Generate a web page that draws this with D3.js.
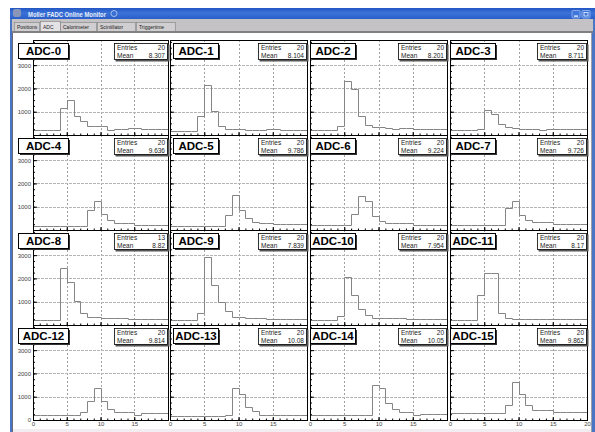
<!DOCTYPE html>
<html><head><meta charset="utf-8">
<script src="https://cdn.jsdelivr.net/npm/d3@7"></script>
<style>
body{margin:0;background:#fff;}
svg{display:block;font-family:"Liberation Sans",Arial,sans-serif;}
</style></head><body>
<svg id="graph"></svg>
<script>
// bin contents, 20 bins of width 1 from 0 to 20
const adc0  = [220,220,230,230,1150,1500,830,610,390,390,390,220,260,270,280,280,270,270,260,260];
const adc1  = [170,170,170,170,830,2130,1040,390,260,260,260,200,230,220,240,250,230,220,200,200];
const adc2  = [200,200,200,200,380,2300,1980,830,420,350,330,300,270,290,300,260,250,250,240,240];
const adc3  = [200,200,200,200,260,1070,900,460,330,300,260,250,240,230,240,260,250,240,240,240];
const adc4  = [190,190,190,190,190,190,190,190,860,1250,690,430,290,290,290,220,220,220,220,220];
const adc5  = [190,190,190,190,190,190,190,190,650,1500,870,510,360,290,290,250,250,250,250,250];
const adc6  = [210,210,210,210,210,210,700,1450,1250,600,380,320,320,320,320,230,230,230,230,230];
const adc7  = [200,200,200,200,200,200,200,200,940,1230,630,430,360,360,360,270,270,270,270,270];
const adc8  = [220,220,220,220,2450,1850,1050,500,350,330,300,300,280,280,270,270,260,260,250,250];
const adc9  = [200,200,200,200,500,2900,1700,1000,600,350,330,300,300,280,270,260,260,250,250,250];
const adc10 = [200,200,200,200,400,2050,1300,700,450,300,300,290,280,280,270,270,260,260,250,250];
const adc11 = [200,200,200,200,1300,2250,2250,500,280,270,260,260,250,250,250,250,250,250,250,250];
const adc12 = [210,210,210,210,210,210,210,360,820,1360,820,460,360,360,330,210,290,290,290,290];
const adc13 = [190,190,190,190,190,190,190,190,230,1360,1110,540,400,230,230,210,210,210,210,210];
const adc14 = [215,215,215,215,215,215,215,215,215,1500,1360,720,460,350,350,200,270,270,270,270];
const adc15 = [290,290,290,290,290,290,290,290,640,1640,1110,640,430,430,430,360,360,360,360,360];

const channels = [adc0,adc1,adc2,adc3,adc4,adc5,adc6,adc7,adc8,adc9,adc10,adc11,adc12,adc13,adc14,adc15];
const names = channels.map((c, i) => 'ADC-' + i);
const entries = [20,20,20,20,20,20,20,20,13,20,20,20,20,20,20,20];
const means = ['8.307','8.104','8.201','8.711','9.636','9.786','9.224','9.726','8.82','7.839','7.954','8.17','9.814','10.08','10.05','9.862'];
const xTicks = [0,5,10,15,20];
const yTicks = [1000,2000,3000];
const tabs = ['Positions','ADC','Calorimeter','Scintillator','Triggertime'];

var W = 595, H = 432;
var svg = d3.select('#graph').attr('width', W).attr('height', H);

// ---- window chrome ----
var grad = svg.append('defs').append('linearGradient').attr('id','tb')
    .attr('x1',0).attr('y1',0).attr('x2',0).attr('y2',1);
grad.append('stop').attr('offset','0%').attr('stop-color','#2356c4');
grad.append('stop').attr('offset','45%').attr('stop-color','#3b73d8');
grad.append('stop').attr('offset','100%').attr('stop-color','#2a5ec8');

svg.append('rect').attr('x',10).attr('y',8).attr('width',W-10).attr('height',H-8).attr('fill','#4a74c4');
svg.append('rect').attr('x',10).attr('y',8).attr('width',W-10).attr('height',11).attr('fill','url(#tb)');
svg.append('rect').attr('x',13).attr('y',9).attr('width',8).attr('height',8).attr('fill','#8a96b8').attr('rx',2);
svg.append('text').attr('x',28).attr('y',16.5).attr('fill','#e8eefa').attr('font-size',7).attr('font-weight','bold')
    .attr('textLength',78).attr('lengthAdjust','spacingAndGlyphs')
    .text('Moller FADC Online Monitor');
svg.append('circle').attr('cx',114).attr('cy',13.5).attr('r',3).attr('fill','none').attr('stroke','#a8c0ec').attr('stroke-width',1);
[572,582].forEach(function (bx, i) {
    svg.append('rect').attr('x',bx).attr('y',10.5).attr('width',8).attr('height',7.5).attr('rx',1)
        .attr('fill','#3e76dc').attr('stroke','#9ab8ec').attr('stroke-width',0.8);
    if (i == 0) svg.append('rect').attr('x',bx+2).attr('y',15.5).attr('width',4).attr('height',1.2).attr('fill','#fff');
    else svg.append('rect').attr('x',bx+2).attr('y',12.5).attr('width',4).attr('height',3.5).attr('fill','none').attr('stroke','#fff').attr('stroke-width',0.7);
});

// tab strip
svg.append('rect').attr('x',12).attr('y',19).attr('width',W-14).attr('height',13).attr('fill','#c4c2c4');
var tabX = [14,40,60,97,136], tabW = [25,20,36,38,39];
tabs.forEach(function (t, i) {
    var sel = i == 1;
    svg.append('rect').attr('x',tabX[i]+0.5).attr('y',sel ? 21.5 : 22.5).attr('width',tabW[i]).attr('height',sel ? 10 : 9)
        .attr('fill',sel ? '#e4e2e4' : '#d0ced0').attr('stroke','#808080').attr('stroke-width',0.6);
    svg.append('text').attr('x',tabX[i]+3).attr('y',29).attr('font-size',5).attr('fill','#222').text(t);
});
svg.append('rect').attr('x',12).attr('y',31).attr('width',W-14).attr('height',2).attr('fill','#808080');

// canvas
svg.append('rect').attr('x',13).attr('y',33).attr('width',578).attr('height',H-33).attr('fill','#fff');
svg.append('rect').attr('x',12).attr('y',33).attr('width',1).attr('height',H-33).attr('fill','#6a6a78');
svg.append('rect').attr('x',591).attr('y',33).attr('width',1).attr('height',H-33).attr('fill','#a0a0a8');
svg.append('rect').attr('x',13).attr('y',429).attr('width',578).attr('height',3).attr('fill','#f1edf1');

// ---- pads ----
var frameX = [33,170,310,450], frameW = [135,137,137,137];
var rowTop = [40,135,230,325], rowH = 95;
var labelX = [18,173,310,450], labelW = [50,45,45,45];
var statW = [54,49,49,50];

channels.forEach(function (data, k) {
    var col = k % 4, row = Math.floor(k / 4);
    var x = d3.scaleLinear().domain([0,20]).range([frameX[col], frameX[col] + frameW[col]]);
    var y = d3.scaleLinear().domain([0,4080]).range([rowTop[row] + rowH, rowTop[row]]);
    var g = svg.append('g');

    // grid
    g.selectAll('.gx').data(xTicks.slice(1,4)).enter().append('line')
        .attr('x1', d => Math.round(x(d)) + 0.5).attr('x2', d => Math.round(x(d)) + 0.5)
        .attr('y1', y(4080)).attr('y2', y(0))
        .attr('stroke','#a0a0a0').attr('stroke-width',1).attr('stroke-dasharray','2,2');
    g.selectAll('.gy').data(yTicks).enter().append('line')
        .attr('x1', x(0)).attr('x2', x(20))
        .attr('y1', d => Math.round(y(d)) + 0.5).attr('y2', d => Math.round(y(d)) + 0.5)
        .attr('stroke','#b4b4b4').attr('stroke-width',1).attr('stroke-dasharray','3,1');

    // histogram outline
    var pts = data.map((v, i) => [i, v]).concat([[20, data[19]]]);
    var line = d3.line().x(d => Math.round(x(d[0])) + 0.5).y(d => Math.round(y(d[1])) + 0.5).curve(d3.curveStepAfter);
    g.append('path').attr('d', line(pts)).attr('fill','none').attr('stroke','#858585').attr('stroke-width',1);

    // axes, ticks inside the frame
    var xLab = col == 3 ? xTicks : xTicks.slice(0, 4);
    var yMinor = g.append('g').attr('transform','translate(' + x(0) + ',0)')
        .call(d3.axisLeft(y).tickValues(d3.range(250, 4080, 250)).tickSize(-2).tickFormat(''));
    var yMajor = g.append('g').attr('transform','translate(' + x(0) + ',0)')
        .call(d3.axisLeft(y).tickValues(row == 3 ? [0].concat(yTicks) : yTicks).tickSize(-4).tickPadding(2)
            .tickFormat(col == 0 ? d3.format('d') : ''));
    var xMinor = g.append('g').attr('transform','translate(0,' + y(0) + ')')
        .call(d3.axisBottom(x).tickValues(d3.range(1, 20)).tickSize(-1.5).tickFormat(''));
    var xMajor = g.append('g').attr('transform','translate(0,' + y(0) + ')')
        .call(d3.axisBottom(x).tickValues(row == 3 ? xLab : xTicks).tickSize(-3).tickPadding(2)
            .tickFormat(row == 3 ? d3.format('d') : ''));
    [yMinor, yMajor, xMinor, xMajor].forEach(function (a) {
        a.select('.domain').remove();
        a.selectAll('line').attr('stroke','#000');
        a.selectAll('text').attr('font-size',6).attr('fill','#444').attr('font-family','"Liberation Sans",Arial,sans-serif');
    });

    // frame
    g.append('rect').attr('x', Math.round(x(0)) + 0.5).attr('y', Math.round(y(4080)) + 0.5)
        .attr('width', Math.round(x(20) - x(0))).attr('height', Math.round(y(0) - y(4080)))
        .attr('fill','none').attr('stroke','#000').attr('stroke-width',1);

    // title box
    var ty = rowTop[row] + 3;
    g.append('rect').attr('x', labelX[col] + 2).attr('y', ty + 2).attr('width', labelW[col]).attr('height', 15).attr('fill','#333');
    g.append('rect').attr('x', labelX[col] + 0.5).attr('y', ty + 0.5).attr('width', labelW[col]).attr('height', 15)
        .attr('fill','#fff').attr('stroke','#000').attr('stroke-width',1);
    g.append('text').attr('x', labelX[col] + labelW[col] / 2 + 0.5).attr('y', ty + 12)
        .attr('text-anchor','middle').attr('font-size',11.5).attr('font-weight','bold').text(names[k]);

    // stats box
    var sr = x(20), sx = sr - statW[col];
    g.append('rect').attr('x', sx + 1.5).attr('y', ty + 1.5).attr('width', statW[col]).attr('height', 17).attr('fill','#555');
    g.append('rect').attr('x', sx + 0.5).attr('y', ty + 0.5).attr('width', statW[col] - 1).attr('height', 16)
        .attr('fill','#fff').attr('stroke','#000').attr('stroke-width',0.8);
    g.append('text').attr('x', sx + 3).attr('y', ty + 7).attr('font-size',6.5).attr('fill','#222').text('Entries');
    g.append('text').attr('x', sr - 3).attr('y', ty + 7).attr('text-anchor','end').attr('font-size',6.5).attr('fill','#222').text(entries[k]);
    g.append('text').attr('x', sx + 3).attr('y', ty + 14.5).attr('font-size',6.5).attr('fill','#222').text('Mean');
    g.append('text').attr('x', sr - 3).attr('y', ty + 14.5).attr('text-anchor','end').attr('font-size',6.5).attr('fill','#222').text(means[k]);
});
</script>
</body></html>
